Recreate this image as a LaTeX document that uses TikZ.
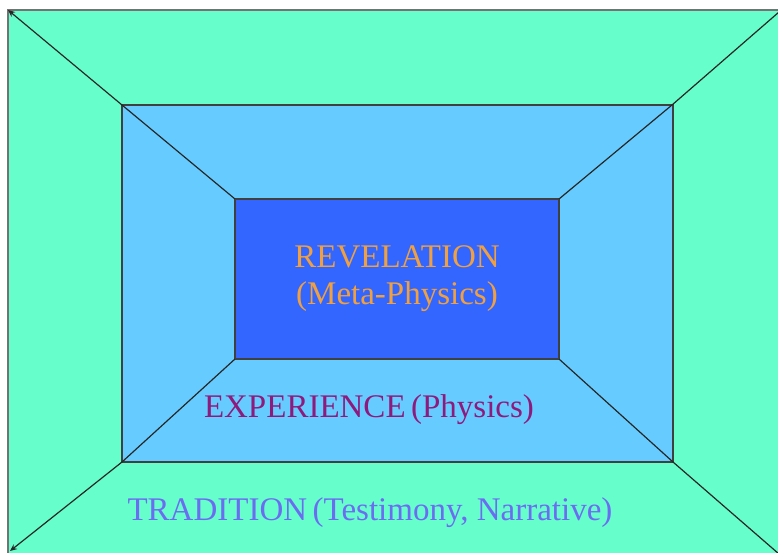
\documentclass[tikz,border=0pt]{standalone}
\usepackage{fontspec}
\setmainfont{Liberation Serif}
\usetikzlibrary{arrows.meta}
\definecolor{tradgreen}{HTML}{66FFCC}
\definecolor{expblue}{HTML}{66CCFF}
\definecolor{revblue}{HTML}{3366FF}
\definecolor{revtext}{HTML}{F0A040}
\definecolor{exptext}{HTML}{8E1A7E}
\definecolor{tradtext}{HTML}{6C6CF2}
\begin{document}
\begin{tikzpicture}[x=1pt, y=-1pt,
    frame/.style={draw=black!75, line width=1.2pt},
    ray/.style={draw=black!85, line width=1.2pt},
    label/.style={font=\fontsize{33}{37}\selectfont, align=center, inner sep=0pt}
  ]
  \useasboundingbox (0,0) rectangle (778,553);
  \clip (0,0) rectangle (778,553);
  % corners of the three frames
  \coordinate (oTL) at (8,10);   \coordinate (oTR) at (779,12);
  \coordinate (oBR) at (779,554); \coordinate (oBL) at (10,551);
  \coordinate (mTL) at (122,105); \coordinate (mTR) at (672,105);
  \coordinate (mBR) at (673,462); \coordinate (mBL) at (122,462);
  \coordinate (iTL) at (235,199); \coordinate (iTR) at (559,199);
  \coordinate (iBR) at (559,359); \coordinate (iBL) at (235,359);
  % fills
  \fill[tradgreen] (8,10) rectangle (790,560);
  \draw[draw=black!55, line width=1.4pt] (790,10) -- (8,10) -- (8,560);
  \filldraw[fill=expblue, frame] (mTL) rectangle (mBR);
  \filldraw[fill=revblue, frame] (iTL) rectangle (iBR);
  % rays through the corners
  \draw[ray, -{Stealth[length=7pt,width=6pt]}] (mTL) -- (oTL);
  \draw[ray] (iTL) -- (mTL);
  \draw[ray] (iTR) -- (mTR) -- (oTR);
  \draw[ray] (iBR) -- (mBR) -- (oBR);
  \draw[ray, -{Stealth[length=7pt,width=6pt]}] (mBL) -- (oBL);
  \draw[ray] (iBL) -- (mBL);
  % labels
  \node[label, text=revtext] (rev) at (397,279) {REVELATION\\(Meta-Physics)};
  \node[label, text=exptext, anchor=base] (exp) at (369,417) {EXPERIENCE\,(Physics)};
  \node[label, text=tradtext, anchor=base] (trad) at (370,520) {TRADITION\,(Testimony, Narrative)};
\end{tikzpicture}
\end{document}
